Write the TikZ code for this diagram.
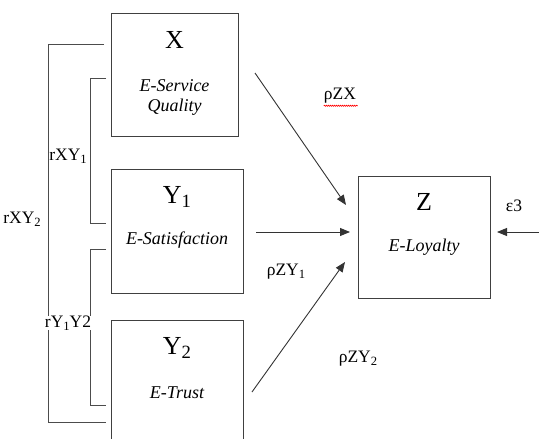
\documentclass[tikz,border=0pt]{standalone}
\usepackage{fontspec}
\setmainfont{Liberation Serif}
\usetikzlibrary{arrows.meta}
\usetikzlibrary{decorations.pathmorphing}
\tikzset{
    box/.style={draw=black!75, line width=0.9pt, inner sep=0pt},
    boxtitle/.style={font=\fontsize{26}{29}\selectfont},
    boxname/.style={font=\fontsize{18}{21}\selectfont\itshape, align=center},
    lbl/.style={font=\fontsize{17.5}{20}\selectfont, inner sep=0pt},
    brk/.style={draw=black!70, line width=0.8pt},
    effect/.style={draw=black!80, line width=0.9pt, -{Triangle[length=10pt,width=8pt]}}
}
\newcommand{\sub}[1]{\raisebox{-0.35ex}{\fontsize{0.72em}{1em}\selectfont #1}}

\begin{document}
\begin{tikzpicture}[x=1pt,y=-1pt]
		\useasboundingbox (0,0) rectangle (539,439);
		\clip (0,0) rectangle (539,439);

		% boxes
		\node[box, minimum width=127pt, minimum height=123pt] (X) at (174.5,74.5) {};
		\node[box, minimum width=132pt, minimum height=124pt] (Y1) at (177,231) {};
		\node[box, minimum width=132pt, minimum height=140pt] (Y2) at (177,390) {};
		\node[box, minimum width=132pt, minimum height=122pt] (Z) at (424,237) {};

		% box texts
		\node[boxtitle] (Xt) at (174.5,40) {X};
		\node[boxname] (Xn) at (174.5,97) {E-Service\\[-1pt]Quality};
		\node[boxtitle] (Y1t) at (177,197) {Y\sub{1}};
		\node[boxname] (Y1n) at (177,240) {E-Satisfaction};
		\node[boxtitle] (Y2t) at (177,348) {Y\sub{2}};
		\node[boxname] (Y2n) at (177,393) {E-Trust};
		\node[boxtitle] (Zt) at (424,202) {Z};
		\node[boxname] (Zn) at (424,247) {E-Loyalty};

		% correlations
		\draw[brk] (104,44) -- (48,44) -- (48,422) -- (106,422);
		\draw[brk] (106,78) -- (90,78) -- (90,223) -- (106,223);
		\draw[brk] (106,249) -- (90,249) -- (90,405) -- (106,405);
		\node[lbl, fill=white] (rxy1) at (68,156) {rXY\sub{1}};
		\node[lbl, fill=white] (rxy2) at (22,219) {rXY\sub{2}};
		\node[lbl, fill=white] (ry1y2) at (68,323) {rY\sub{1}Y2};

		% paths
		\coordinate (zxs) at (255,73);
		\coordinate (zxe) at (346,205);
		\coordinate (zy1s) at (256,232);
		\coordinate (zy1e) at (350,232);
		\coordinate (zy2s) at (252,392);
		\coordinate (zy2e) at (345,262);
		\coordinate (es) at (539,232);
		\coordinate (ee) at (497,232);
		\draw[effect] (zxs) -- (zxe);
		\draw[effect] (zy1s) -- (zy1e);
		\draw[effect] (zy2s) -- (zy2e);
		\draw[effect] (es) -- (ee);

		% path labels
		\node[lbl] (pzx) at (340,96) {ρZX};
		\draw[red, line width=0.6pt, decorate, decoration={snake, amplitude=0.6pt, segment length=2pt}]
			(pzx.south west) ++(0,2) -- ++(34,0);
		\node[lbl] (pzy1) at (286,272) {ρZY\sub{1}};
		\node[lbl] (pzy2) at (358,359) {ρZY\sub{2}};
		\node[lbl] (eps) at (514,206) {ε3};

	\end{tikzpicture}
\end{document}
